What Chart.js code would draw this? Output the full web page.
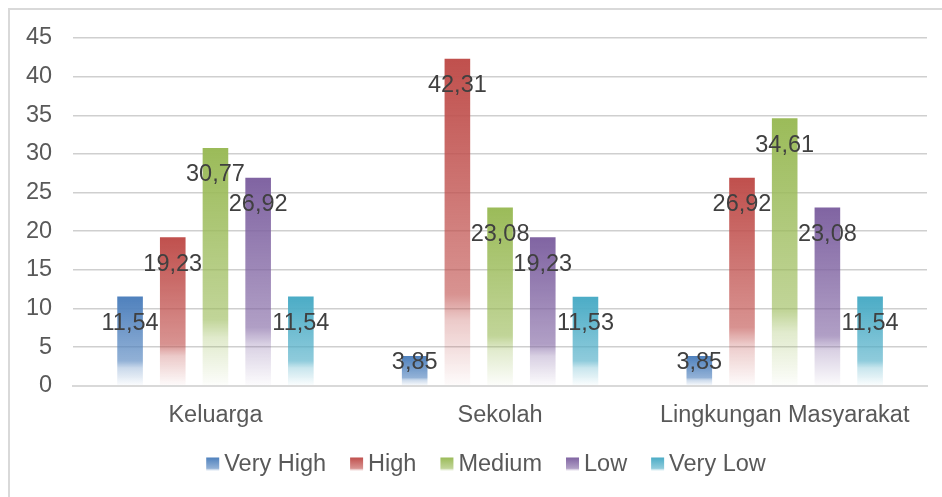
<!DOCTYPE html>
<html>
<head>
<meta charset="utf-8">
<script src="https://cdn.jsdelivr.net/npm/chart.js@4/dist/chart.umd.min.js"></script>
<style>
  body { margin: 0; background: #fff; overflow: hidden; }
  #frame { position: absolute; left: 8px; top: 8px; width: 960px; height: 520px; border-top: 2px solid #d9d9d9; border-left: 2px solid #d9d9d9; }
  #chart { position: absolute; left: 0; top: 0; }
</style>
</head>
<body>
<div id="frame"></div>
<canvas id="chart" width="942" height="497"></canvas>
<script>
const categories = ["Keluarga", "Sekolah", "Lingkungan Masyarakat"];
const seriesNames = ["Very High", "High", "Medium", "Low", "Very Low"];
const veryHigh = [11.54, 3.85, 3.85];
const high = [19.23, 42.31, 26.92];
const medium = [30.77, 23.08, 34.61];
const low = [26.92, 19.23, 23.08];
const veryLow = [11.54, 11.53, 11.54];
const colors = ["#4f81bd", "#c0504d", "#9bbb59", "#8064a2", "#4bacc6"];

const FONT = "'Liberation Sans', Arial, sans-serif";

function hexA(hex, a) {
  const n = parseInt(hex.slice(1), 16);
  return `rgba(${n >> 16},${(n >> 8) & 255},${n & 255},${a})`;
}

function fade(c, color, top, bottom) {
  const g = c.createLinearGradient(0, top, 0, bottom);
  g.addColorStop(0, hexA(color, 1));
  g.addColorStop(0.72, hexA(color, 0.62));
  g.addColorStop(0.8, hexA(color, 0.3));
  g.addColorStop(1, hexA(color, 0.02));
  return g;
}

// each bar fades from its colour at the top to white at the base
function barFill(color) {
  return function (ctx) {
    const chart = ctx.chart;
    if (!chart.chartArea || ctx.type !== "data") return color;
    const y = chart.scales.y;
    return fade(chart.ctx, color, y.getPixelForValue(ctx.raw), y.getPixelForValue(0));
  };
}

const valueLabels = {
  id: "valueLabels",
  afterDatasetsDraw(chart) {
    const c = chart.ctx;
    const base = chart.scales.y.getPixelForValue(0);
    c.save();
    c.font = "23.5px " + FONT;
    c.fillStyle = "#404040";
    c.textAlign = "center";
    c.textBaseline = "middle";
    chart.data.datasets.forEach((ds, i) => {
      chart.getDatasetMeta(i).data.forEach((bar, j) => {
        const y = Math.min(bar.y + 27, base - 23);
        c.fillText(ds.data[j].toFixed(2).replace(".", ","), bar.x, y);
      });
    });
    c.restore();
  }
};

// legend drawn by hand: tight box-to-text gap like the office original
const officeLegend = {
  id: "officeLegend",
  afterDraw(chart) {
    const c = chart.ctx;
    const box = 13, gap = 5, space = 24, cy = 464, centerX = 486;
    c.save();
    c.font = "23.5px " + FONT;
    c.textBaseline = "middle";
    const widths = chart.data.datasets.map(ds => c.measureText(ds.label).width);
    const total = widths.reduce((a, w) => a + box + gap + w, 0) + space * (widths.length - 1);
    let x = centerX - total / 2;
    chart.data.datasets.forEach((ds, i) => {
      c.fillStyle = fade(c, colors[i], cy - box / 2, cy + box / 2 + 2);
      c.fillRect(x, cy - box / 2, box, box);
      x += box + gap;
      c.fillStyle = "#595959";
      c.fillText(ds.label, x, cy + 1);
      x += widths[i] + space;
    });
    c.restore();
  }
};

const allSeries = [veryHigh, high, medium, low, veryLow];

new Chart(document.getElementById("chart"), {
  type: "bar",
  data: {
    labels: categories,
    datasets: allSeries.map((d, i) => ({
      label: seriesNames[i],
      data: d,
      backgroundColor: barFill(colors[i]),
      categoryPercentage: 0.75,
      barPercentage: 0.6
    }))
  },
  options: {
    responsive: false,
    animation: false,
    layout: { padding: { left: 5, right: 15, top: 38, bottom: 59 } },
    plugins: {
      legend: { display: false },
      tooltip: { enabled: false }
    },
    scales: {
      x: {
        grid: { display: false },
        border: { color: "#d9d9d9", width: 2 },
        ticks: {
          color: "#595959",
          padding: 8,
          font: { size: 23.5, family: FONT }
        }
      },
      y: {
        min: 0,
        max: 45,
        border: { display: false },
        grid: { color: "#cfcfcf", lineWidth: 1.5, drawTicks: false },
        ticks: {
          stepSize: 5,
          color: "#595959",
          padding: 21,
          font: { size: 23.5, family: FONT }
        }
      }
    }
  },
  plugins: [valueLabels, officeLegend]
});
</script>
</body>
</html>
